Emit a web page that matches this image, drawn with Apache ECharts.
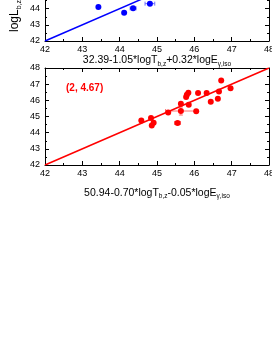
<!DOCTYPE html>
<html><head><meta charset="utf-8">
<script src="https://cdn.jsdelivr.net/npm/echarts@6/dist/echarts.min.js"></script>
<style>html,body{margin:0;padding:0;background:#fff}#c{width:272px;height:352px}</style>
</head><body><div id="c"></div>
<script>
// ---- data ----
const axisMin = 42, axisMax = 48, axisStep = 1;
// top panel (blue), only the visible part
const topX    = [43.43, 44.12, 44.36, 44.81];
const topY    = [44.10, 43.75, 44.02, 44.31];
const topXErr = [0, 0, 0.08, 0.13];
const topYErr = [0, 0, 0, 0];
// bottom panel (red)
const botX    = [44.58, 44.84, 44.86, 44.91, 45.30, 45.64, 45.64, 45.55, 45.78, 45.80, 45.84, 45.85, 46.05, 46.10, 46.33, 46.44, 46.63, 46.66, 46.72, 46.97];
const botY    = [44.76, 44.91, 44.45, 44.62, 45.25, 45.79, 45.34, 44.60, 46.21, 46.35, 46.47, 45.73, 45.32, 46.45, 46.45, 45.92, 46.10, 46.55, 47.23, 46.74];
const botXErr = [0, 0, 0, 0, 0, 0, 0.41, 0.08, 0, 0, 0, 0, 0, 0, 0, 0, 0, 0, 0, 0];
const botYErr = [0, 0, 0, 0, 0, 0, 0.25, 0, 0, 0, 0, 0, 0, 0, 0, 0, 0, 0, 0, 0];
const lineX = [42, 48];
const lineY = [42, 48];
const topTitle = ['32.39-1.05*logT', 'b,z', '+0.32*logE', 'γ,iso'];
const botTitle = ['50.94-0.70*logT', 'b,z', '-0.05*logE', 'γ,iso'];
const topYName = ['logL', 'b,z'];
const annot = '(2, 4.67)';

// ---- chart ----
const FONT = 'Liberation Sans, Arial, sans-serif';
const chart = echarts.init(document.getElementById('c'), null, {renderer: 'canvas'});
const pts = (xs, ys) => xs.map((v, i) => [v, ys[i]]);
const errs = (xs, ys, xe, ye) => xs.map((v, i) => [v, ys[i], xe[i], ye[i]]).filter(d => d[2] > 0 || d[3] > 0);
const richName = t => '{m|' + t[0] + '}{s|' + t[1] + '}{m|' + t[2] + '}{s|' + t[3] + '}';
const nameRich = {
  m: {fontSize: 10.5, fontFamily: FONT, color: '#000', lineHeight: 14},
  s: {fontSize: 6.5, fontFamily: FONT, color: '#000', lineHeight: 6, verticalAlign: 'bottom'}
};
function xAxisMain(gi, title, gap) {
  return {
    gridIndex: gi, type: 'value', min: axisMin, max: axisMax, interval: axisStep, position: 'bottom',
    axisLine: {lineStyle: {color: '#000', width: 1}},
    axisTick: {inside: true, length: 4, lineStyle: {color: '#000'}},
    minorTick: {show: true, splitNumber: 2, length: 2, lineStyle: {color: '#000'}},
    axisLabel: {fontSize: 9, color: '#000', fontFamily: FONT, margin: 4, showMaxLabel: true, showMinLabel: true},
    splitLine: {show: false},
    name: richName(title), nameLocation: 'middle', nameGap: gap,
    nameTextStyle: {rich: nameRich}
  };
}
function xAxisTop(gi) {
  return {
    gridIndex: gi, type: 'value', min: axisMin, max: axisMax, interval: axisStep, position: 'top',
    axisLine: {lineStyle: {color: '#000', width: 1}},
    axisTick: {inside: true, length: 4, lineStyle: {color: '#000'}},
    minorTick: {show: true, splitNumber: 2, length: 2, lineStyle: {color: '#000'}},
    axisLabel: {show: false}, splitLine: {show: false}
  };
}
function yAxisLeft(gi) {
  return {
    gridIndex: gi, type: 'value', min: axisMin, max: axisMax, interval: axisStep, position: 'left',
    axisLine: {show: true, lineStyle: {color: '#000', width: 1}},
    axisTick: {show: true, inside: true, length: 4, lineStyle: {color: '#000'}},
    minorTick: {show: true, splitNumber: 2, length: 2, lineStyle: {color: '#000'}},
    axisLabel: {fontSize: 9, color: '#000', fontFamily: FONT, margin: 5, showMaxLabel: true, showMinLabel: true},
    splitLine: {show: false}
  };
}
function yAxisRight(gi) {
  return {
    gridIndex: gi, type: 'value', min: axisMin, max: axisMax, interval: axisStep, position: 'right',
    axisLine: {show: true, lineStyle: {color: '#000', width: 1}},
    axisTick: {show: true, inside: true, length: 4, lineStyle: {color: '#000'}},
    minorTick: {show: true, splitNumber: 2, length: 2, lineStyle: {color: '#000'}},
    axisLabel: {show: false}, splitLine: {show: false}
  };
}
function errSeries(data, xi, yi, color) {
  return {
    type: 'custom', xAxisIndex: xi, yAxisIndex: yi, data: data, z: 1, silent: true,
    encode: {x: 0, y: 1},
    renderItem: function (params, api) {
      const x = api.value(0), y = api.value(1), xe = api.value(2), ye = api.value(3);
      const st = {stroke: color, lineWidth: 1};
      const ch = [];
      const cap = 2;
      if (xe > 0) {
        const a = api.coord([x - xe, y]), b = api.coord([x + xe, y]);
        ch.push({type: 'line', shape: {x1: a[0], y1: a[1], x2: b[0], y2: b[1]}, style: st});
        ch.push({type: 'line', shape: {x1: a[0], y1: a[1] - cap, x2: a[0], y2: a[1] + cap}, style: st});
        ch.push({type: 'line', shape: {x1: b[0], y1: b[1] - cap, x2: b[0], y2: b[1] + cap}, style: st});
      }
      if (ye > 0) {
        const a = api.coord([x, y - ye]), b = api.coord([x, y + ye]);
        ch.push({type: 'line', shape: {x1: a[0], y1: a[1], x2: b[0], y2: b[1]}, style: st});
        ch.push({type: 'line', shape: {x1: a[0] - cap, y1: a[1], x2: a[0] + cap, y2: a[1]}, style: st});
        ch.push({type: 'line', shape: {x1: b[0] - cap, y1: b[1], x2: b[0] + cap, y2: b[1]}, style: st});
      }
      return {type: 'group', children: ch};
    }
  };
}

const option = {
  backgroundColor: '#fff',
  animation: false,
  grid: [
    {left: 45, width: 224, top: -56, height: 97, containLabel: false, outerBoundsMode: 'none'},
    {left: 45, width: 224, top: 68, height: 97, containLabel: false, outerBoundsMode: 'none'}
  ],
  xAxis: [xAxisMain(0, topTitle, 11), xAxisTop(0), xAxisMain(1, botTitle, 21), xAxisTop(1)],
  yAxis: [yAxisLeft(0), yAxisRight(0), yAxisLeft(1), yAxisRight(1)],
  series: [
    {type: 'line', xAxisIndex: 0, yAxisIndex: 0, data: pts(lineX, lineY), symbol: 'none',
     lineStyle: {color: '#0000ff', width: 1.5}, z: 2, silent: true},
    errSeries(errs(topX, topY, topXErr, topYErr), 0, 0, '#7070ff'),
    {type: 'scatter', xAxisIndex: 0, yAxisIndex: 0, data: pts(topX, topY), symbolSize: 6,
     itemStyle: {color: '#0000ff', opacity: 1}, z: 3},
    {type: 'line', xAxisIndex: 2, yAxisIndex: 2, data: pts(lineX, lineY), symbol: 'none',
     lineStyle: {color: '#ff0000', width: 1.5}, z: 2, silent: true},
    errSeries(errs(botX, botY, botXErr, botYErr), 2, 2, '#ff7070'),
    {type: 'scatter', xAxisIndex: 2, yAxisIndex: 2, data: pts(botX, botY), symbolSize: 6,
     itemStyle: {color: '#ff0000', opacity: 1}, z: 3}
  ],
  graphic: [
    {type: 'text', x: 15, y: 32, rotation: Math.PI / 2,
     style: {text: '{m|' + topYName[0] + '}{s|' + topYName[1] + '}', align: 'left', verticalAlign: 'middle',
       rich: {m: {fontSize: 12, fontFamily: FONT, fill: '#000', lineHeight: 15},
              s: {fontSize: 7, fontFamily: FONT, fill: '#000', lineHeight: 6, verticalAlign: 'bottom'}}}},
    {type: 'text', x: 66, y: 88,
     style: {text: annot, fill: '#ff0000', font: 'bold 10px ' + FONT, align: 'left', verticalAlign: 'middle'}}
  ]
};
chart.setOption(option);
</script>
</body></html>
